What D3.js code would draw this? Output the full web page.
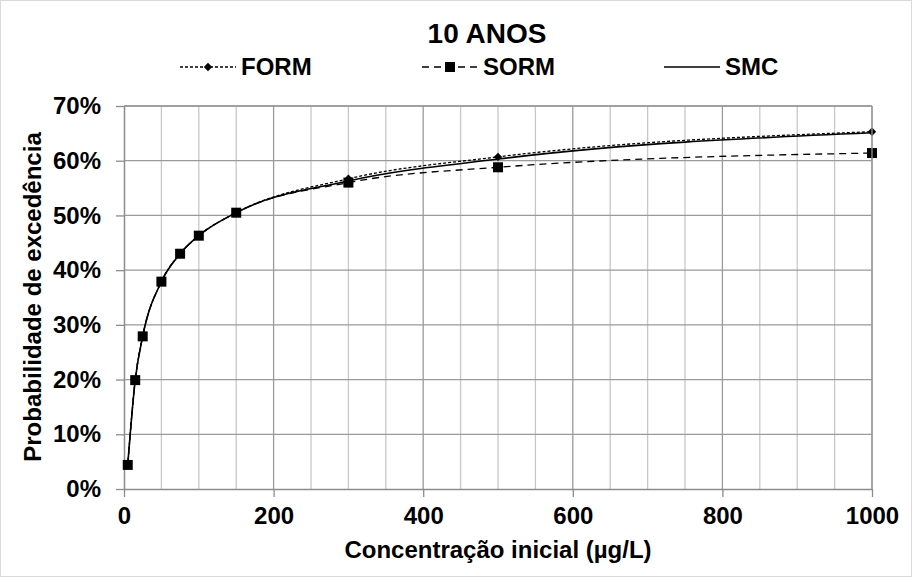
<!DOCTYPE html>
<html>
<head>
<meta charset="utf-8">
<script src="https://cdn.jsdelivr.net/npm/d3@7"></script>
<style>
  body { margin: 0; background: #fff; }
  text { font-family: "Liberation Sans", Arial, sans-serif; font-weight: bold; fill: #000; }
</style>
</head>
<body>
<script>
// dados do gráfico
var concentracao = [5, 15, 25, 50, 75, 100, 150, 300, 500, 1000];
var form = [4.4, 19.9, 27.9, 37.9, 43.0, 46.3, 50.5, 56.7, 60.7, 65.3];
var sorm = [4.4, 19.9, 27.9, 37.9, 43.0, 46.3, 50.5, 56.0, 58.8, 61.4];
var smc  = [4.4, 19.9, 27.9, 37.9, 43.0, 46.3, 50.5, 56.3, 60.3, 65.1];
var xTicks = [0, 200, 400, 600, 800, 1000];
var yTicks = [0, 10, 20, 30, 40, 50, 60, 70];

var width = 912, height = 577;
var margin = {left: 124, right: 40, top: 106, bottom: 88};
var font = '"Liberation Sans", Arial, sans-serif';

var svg = d3.select("body").append("svg")
  .attr("width", width)
  .attr("height", height);

// moldura externa
svg.append("rect")
  .attr("x", 0.5).attr("y", 0.5)
  .attr("width", width - 1).attr("height", height - 1)
  .attr("fill", "#fff").attr("stroke", "#d9d9d9");

var x = d3.scaleLinear().domain([0, 1000]).range([margin.left, width - margin.right]);
var y = d3.scaleLinear().domain([0, 70]).range([height - margin.bottom, margin.top]);

// grade vertical menor (cada 50)
svg.append("g").selectAll("line")
  .data(d3.range(50, 1001, 50).filter(function(d) { return d % 200 != 0; }))
  .enter().append("line")
  .attr("x1", function(d) { return x(d); }).attr("x2", function(d) { return x(d); })
  .attr("y1", y(0)).attr("y2", y(70))
  .attr("stroke", "#c8c8c8").attr("stroke-width", 1.3);

// grade vertical maior
svg.append("g").selectAll("line")
  .data(xTicks.slice(1))
  .enter().append("line")
  .attr("x1", function(d) { return x(d); }).attr("x2", function(d) { return x(d); })
  .attr("y1", y(0)).attr("y2", y(70))
  .attr("stroke", "#9a9a9a").attr("stroke-width", 1.3);

// grade horizontal
svg.append("g").selectAll("line")
  .data(yTicks.slice(1))
  .enter().append("line")
  .attr("x1", x(0)).attr("x2", x(1000))
  .attr("y1", function(d) { return y(d); }).attr("y2", function(d) { return y(d); })
  .attr("stroke", "#9a9a9a").attr("stroke-width", 1.3);

// eixos
var xAxis = svg.append("g")
  .attr("transform", "translate(0," + y(0) + ")")
  .call(d3.axisBottom(x).tickValues(xTicks).tickSize(8).tickPadding(10).tickSizeOuter(0)
    .tickFormat(d3.format("d")));
var yAxis = svg.append("g")
  .attr("transform", "translate(" + x(0) + ",0)")
  .call(d3.axisLeft(y).tickValues(yTicks).tickSize(8).tickPadding(15).tickSizeOuter(0)
    .tickFormat(function(d) { return d + "%"; }));

[xAxis, yAxis].forEach(function(a) {
  a.select(".domain").attr("stroke", "#8c8c8c").attr("stroke-width", 1.5);
  a.selectAll(".tick line").attr("stroke", "#8c8c8c").attr("stroke-width", 1.3);
  a.selectAll(".tick text")
    .style("font-family", font)
    .style("font-weight", "bold").style("font-size", "24px").attr("fill", "#000");
});

// séries
var series = [
  {name: "FORM", values: form, dash: "3,2", width: 1.3, marker: "diamond"},
  {name: "SORM", values: sorm, dash: "7,5", width: 1.3, marker: "square"},
  {name: "SMC",  values: smc,  dash: null,  width: 1.6, marker: null}
];

var line = d3.line()
  .x(function(d) { return x(d[0]); })
  .y(function(d) { return y(d[1]); })
  .curve(d3.curveMonotoneX);

function drawMarker(g, type, cx, cy) {
  if (type == "diamond") {
    g.append("path")
      .attr("d", d3.symbol().type(d3.symbolDiamond2).size(45)())
      .attr("transform", "translate(" + cx + "," + cy + ")")
      .attr("fill", "#000");
  }
  if (type == "square") {
    g.append("rect")
      .attr("x", cx - 5).attr("y", cy - 5)
      .attr("width", 10).attr("height", 10)
      .attr("fill", "#000");
  }
}

series.forEach(function(s) {
  var pts = concentracao.map(function(c, i) { return [c, s.values[i]]; });
  svg.append("path")
    .datum(pts)
    .attr("d", line)
    .attr("fill", "none")
    .attr("stroke", "#000")
    .attr("stroke-width", s.width)
    .attr("stroke-dasharray", s.dash);
  var mg = svg.append("g");
  pts.forEach(function(p) { drawMarker(mg, s.marker, x(p[0]), y(p[1])); });
});

// borda da área do gráfico (topo/direita)
svg.append("line").attr("x1", x(0)).attr("x2", x(1000)).attr("y1", y(70)).attr("y2", y(70))
  .attr("stroke", "#9a9a9a").attr("stroke-width", 1.3);
svg.append("line").attr("x1", x(1000)).attr("x2", x(1000)).attr("y1", y(70)).attr("y2", y(0))
  .attr("stroke", "#9a9a9a").attr("stroke-width", 1.3);

// título
svg.append("text")
  .attr("x", 487).attr("y", 43)
  .attr("text-anchor", "middle")
  .style("font-size", "28px")
  .text("10 ANOS");

// legenda
var legendX = [180, 422, 664];
series.forEach(function(s, i) {
  var lg = svg.append("g");
  lg.append("line")
    .attr("x1", legendX[i]).attr("x2", legendX[i] + 56)
    .attr("y1", 67).attr("y2", 67)
    .attr("stroke", "#000").attr("stroke-width", s.width)
    .attr("stroke-dasharray", s.dash);
  drawMarker(lg, s.marker, legendX[i] + 28, 67);
  lg.append("text")
    .attr("x", legendX[i] + 61).attr("y", 75)
    .style("font-size", "24px")
    .text(s.name);
});

// títulos dos eixos
svg.append("text")
  .attr("x", 498).attr("y", 558)
  .attr("text-anchor", "middle")
  .style("font-size", "24px")
  .text("Concentração inicial (µg/L)");

svg.append("text")
  .attr("transform", "translate(41,297) rotate(-90)")
  .attr("text-anchor", "middle")
  .style("font-size", "24px")
  .text("Probabilidade de excedência");
</script>
</body>
</html>
